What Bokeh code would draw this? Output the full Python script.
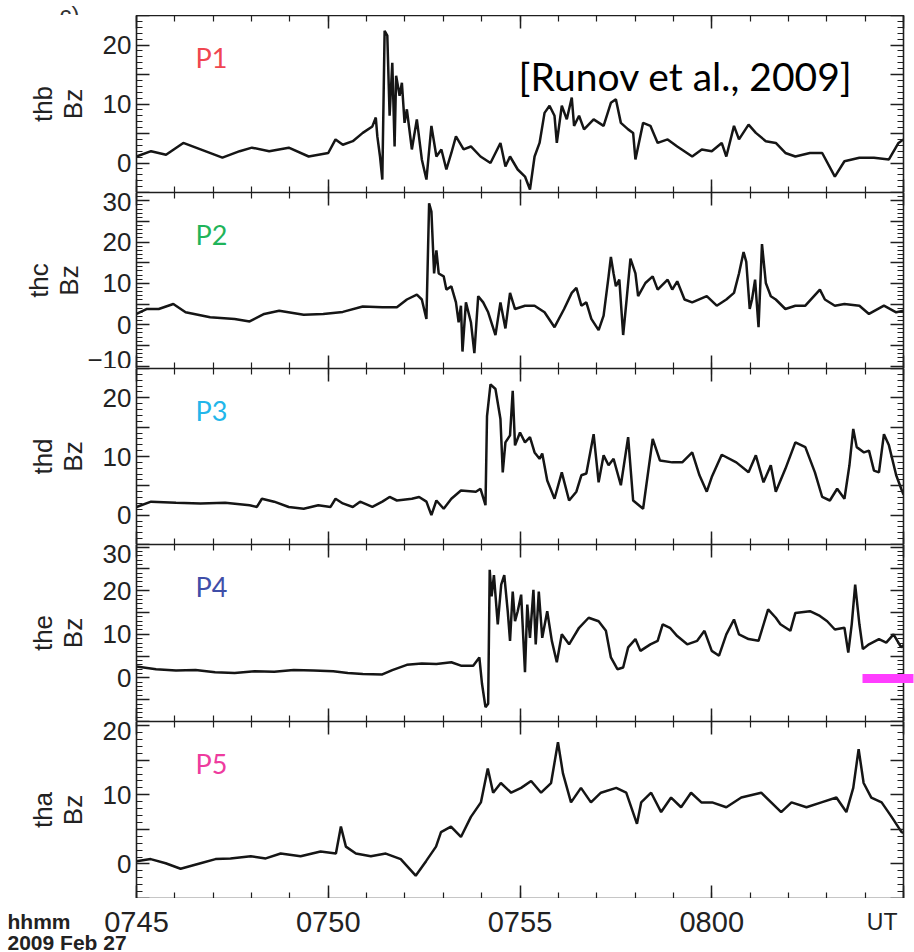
import math
from bokeh.plotting import figure
from bokeh.layouts import column, row
from bokeh.models import (Range1d, LinearAxis, FixedTicker, Label, CustomLabelingPolicy)
from bokeh.embed import file_html
from bokeh.resources import INLINE

# ---- data: minutes after 07:45 UT, Bz in nT ----
t_thb = [0.00,0.38,0.77,1.22,1.67,2.24,2.69,3.01,3.46,3.97,4.49,5.00,5.19,5.38,5.64,5.90,6.15,6.24,6.28,6.35,6.41,6.47,6.54,6.60,6.67,6.73,6.77,6.86,6.92,6.99,7.05,7.18,7.31,7.44,7.56,7.69,7.82,7.95,8.08,8.21,8.33,8.53,8.72,8.97,9.23,9.49,9.62,9.74,9.94,10.13,10.26,10.38,10.51,10.64,10.77,10.90,10.96,11.09,11.22,11.35,11.41,11.54,11.67,11.92,12.18,12.37,12.50,12.63,12.82,12.95,13.01,13.21,13.40,13.59,13.85,14.10,14.49,14.74,15.00,15.26,15.38,15.58,15.71,15.96,16.15,16.41,16.67,16.92,17.18,17.56,17.88,18.21,18.46,18.85,19.23,19.62,19.87,20.00]
bz_thb = [1.1,2.0,1.4,3.4,2.3,0.9,2.0,2.6,2.0,2.6,1.1,1.7,4.0,3.1,3.7,5.1,6.2,7.7,4.5,1.1,-2.8,22.4,21.6,8.0,17.0,2.8,14.8,11.4,13.6,6.8,9.1,2.3,7.4,0.6,-2.8,6.3,1.1,2.3,-1.1,1.7,4.5,2.3,2.8,1.1,0.0,3.4,-0.6,1.1,-1.1,-2.3,-4.5,1.1,3.4,8.5,9.7,8.0,3.4,9.7,7.4,11.1,6.3,8.0,5.7,7.4,6.3,10.2,10.8,6.8,5.7,5.1,0.6,6.8,6.3,3.4,4.0,2.8,1.1,2.3,2.0,3.4,1.1,6.3,4.0,6.5,5.1,3.7,3.4,1.7,1.1,1.7,1.7,-2.3,0.3,0.9,0.9,0.6,3.4,4.0]

t_thc = [0.00,0.26,0.58,0.96,1.28,1.92,2.56,2.95,3.33,3.72,4.36,4.87,5.38,5.90,6.41,6.79,7.05,7.31,7.44,7.56,7.63,7.69,7.76,7.82,7.88,8.01,8.08,8.21,8.33,8.40,8.46,8.50,8.59,8.72,8.81,8.91,9.04,9.17,9.36,9.49,9.62,9.74,9.87,10.13,10.38,10.64,10.90,11.15,11.35,11.47,11.60,11.73,11.86,12.05,12.18,12.31,12.37,12.44,12.50,12.59,12.69,12.78,12.88,13.01,13.08,13.27,13.46,13.59,13.85,13.97,14.10,14.29,14.49,14.87,15.13,15.38,15.58,15.71,15.83,15.90,15.99,16.05,16.13,16.22,16.31,16.41,16.54,16.67,16.92,17.18,17.44,17.82,17.95,18.21,18.46,18.85,19.10,19.49,19.81,20.00]
bz_thc = [2.6,3.8,3.8,5.0,3.0,1.8,1.4,0.8,2.6,3.4,2.4,2.6,3.1,4.4,4.2,4.2,6.1,7.3,6.1,1.4,29.4,27.4,12.4,18.0,12.4,11.7,8.5,9.3,5.4,0.6,4.6,-6.5,5.4,0.6,-6.9,6.9,5.4,3.0,-2.5,5.4,-0.9,7.7,3.8,4.6,4.6,3.0,-0.6,3.8,7.7,8.9,4.6,5.4,1.4,-1.3,2.2,11.7,16.4,12.4,9.3,10.9,-2.5,6.1,16.0,12.4,6.9,10.1,11.7,8.5,10.9,8.5,10.5,6.1,5.4,6.9,4.6,6.1,7.7,12.4,17.6,15.2,3.8,6.1,10.9,-0.6,19.5,10.1,6.9,6.1,3.8,4.6,4.6,8.5,6.1,4.6,5.0,4.6,2.6,4.6,3.0,3.4]

t_thd = [0.00,0.38,1.03,1.67,2.31,2.95,3.14,3.27,3.59,3.97,4.36,4.74,5.06,5.19,5.38,5.64,5.83,6.15,6.41,6.60,6.79,7.18,7.37,7.56,7.69,7.82,8.01,8.21,8.46,8.85,8.97,9.10,9.14,9.23,9.36,9.49,9.55,9.62,9.74,9.81,9.87,10.00,10.13,10.26,10.38,10.51,10.58,10.71,10.90,11.09,11.28,11.47,11.60,11.73,11.92,12.05,12.18,12.31,12.44,12.63,12.82,12.95,13.21,13.46,13.65,13.97,14.23,14.49,14.68,14.87,15.00,15.26,15.64,15.96,16.15,16.35,16.54,16.67,16.92,17.18,17.44,17.69,17.88,18.08,18.27,18.46,18.59,18.69,18.78,18.97,19.10,19.23,19.36,19.49,19.62,19.81,19.94,20.00]
bz_thd = [1.4,2.3,2.1,2.0,2.1,1.7,1.4,2.8,2.3,1.4,1.1,1.7,1.4,2.8,2.0,1.4,2.3,1.4,2.3,3.1,2.5,2.8,3.1,2.3,0.0,2.5,1.1,2.8,4.2,4.0,4.5,1.7,16.9,22.3,21.5,16.4,7.3,12.4,13.6,21.2,11.9,14.1,12.4,13.3,10.7,9.6,10.5,5.9,2.8,7.3,2.5,4.0,6.8,7.1,13.8,5.6,10.2,8.5,9.6,5.1,13.3,2.5,1.1,13.0,9.3,9.0,9.0,10.7,6.8,4.0,6.5,10.3,9.0,7.3,10.2,5.6,8.5,4.0,7.9,12.4,11.6,7.3,3.1,2.5,4.5,2.8,8.5,14.7,11.6,10.7,11.0,7.6,7.3,13.8,11.9,6.8,4.5,3.5]

t_the = [0.00,0.51,1.03,1.54,2.05,2.56,3.08,3.59,4.10,4.62,5.13,5.51,5.90,6.41,6.67,7.05,7.44,7.82,8.21,8.46,8.78,8.94,9.01,9.10,9.17,9.21,9.26,9.32,9.42,9.51,9.59,9.68,9.74,9.81,9.87,9.94,10.03,10.13,10.19,10.26,10.35,10.41,10.49,10.58,10.71,10.83,10.96,11.09,11.28,11.54,11.79,12.05,12.24,12.37,12.54,12.69,12.82,13.01,13.14,13.40,13.59,13.72,13.91,14.10,14.36,14.62,14.81,15.00,15.19,15.38,15.58,15.71,15.96,16.22,16.47,16.67,16.79,17.05,17.18,17.56,17.82,18.01,18.21,18.46,18.56,18.65,18.74,18.85,18.94,19.10,19.36,19.55,19.74,19.94,20.00]
bz_the = [2.6,2.0,1.7,1.8,1.3,1.1,1.5,1.4,1.8,1.7,1.5,1.1,0.9,0.8,1.8,3.0,3.3,3.2,3.6,2.8,2.8,4.7,-1.4,-6.7,-5.9,24.8,18.7,23.6,12.3,21.4,23.6,15.3,8.5,19.8,13.0,15.3,19.1,1.3,16.8,9.2,20.2,7.7,19.8,9.2,15.3,8.5,3.6,10.0,7.7,11.5,13.8,13.0,10.8,4.7,2.0,2.4,7.0,8.9,6.2,7.7,8.5,12.3,11.5,9.6,7.7,8.5,10.8,6.2,5.1,10.0,13.4,10.0,8.9,8.5,15.7,13.8,12.3,10.8,14.9,15.3,14.2,13.0,11.1,11.5,5.8,12.3,21.4,12.3,6.6,7.7,8.9,8.1,10.0,7.0,7.5]

t_tha = [0.00,0.37,0.76,1.15,1.67,2.06,2.45,2.98,3.37,3.76,4.28,4.80,5.20,5.33,5.46,5.72,6.11,6.50,6.89,7.28,7.55,7.81,7.94,8.20,8.46,8.72,8.98,9.16,9.30,9.50,9.77,10.03,10.29,10.55,10.81,10.99,11.12,11.33,11.59,11.85,12.11,12.51,12.77,13.05,13.16,13.42,13.68,13.94,14.20,14.46,14.73,15.01,15.38,15.77,16.29,16.81,17.08,17.47,17.86,18.25,18.51,18.69,18.83,18.96,19.16,19.43,19.69,19.95,20.00]
bz_tha = [0.4,0.7,0.1,-0.7,0.1,0.7,0.8,1.1,0.8,1.5,1.1,1.8,1.5,5.4,2.5,1.5,1.1,1.5,0.7,-1.7,0.4,2.5,4.6,5.4,3.9,6.8,8.9,13.8,10.3,11.7,10.3,11.0,12.0,10.3,11.7,17.6,13.1,8.9,11.0,8.9,10.3,11.0,10.3,5.8,8.9,10.3,7.5,9.6,8.2,10.3,8.9,8.9,8.2,9.6,10.3,7.5,8.9,8.2,8.9,9.6,7.5,11.0,16.6,11.7,9.6,8.9,6.8,4.6,4.5]

tick_minutes = [0, 5, 10, 15]
tick_labels = ["0745", "0750", "0755", "0800"]
end_label = "UT"
probes = ["thb", "thc", "thd", "the", "tha"]
tags = ["P1", "P2", "P3", "P4", "P5"]
tag_colors = ["#f04650", "#1fb45a", "#22b6ea", "#3f4ea8", "#ee3b9e"]

FONT = "Liberation Sans"
TAGFONT = "Lato"
INK = "#1e1e1e"

W = 914
LEFT = 136
RIGHT = 11
XMIN, XMAX = 0.0, 20.0
PXPERMIN = (W - LEFT - RIGHT) / (XMAX - XMIN)

panels = [
    dict(t=t_thb, v=bz_thb, yr=(-5, 25), h=177, lab=[0, 10, 20], lstand=12),
    dict(t=t_thc, v=bz_thc, yr=(-10.6, 32), h=176, lab=[-10, 0, 10, 20, 30], lstand=0),
    dict(t=t_thd, v=bz_thd, yr=(-5, 25), h=176, lab=[0, 10, 20], lstand=12),
    dict(t=t_the, v=bz_the, yr=(-10, 30.6), h=177, lab=[0, 10, 20, 30], lstand=12),
    dict(t=t_tha, v=bz_tha, yr=(-5, 20.6), h=177, lab=[0, 10, 20], lstand=12),
]

yticks_all = list(range(-10, 35, 5))
yminor_all = list(range(-11, 34))
hide_all = "for (const i of indices) indices.unset(i)"


def style_axis(ax, labels_on):
    ax.axis_line_width = 1.6
    ax.axis_line_color = INK
    ax.major_tick_in = 13
    ax.major_tick_out = 0
    ax.minor_tick_in = 6
    ax.minor_tick_out = 0
    ax.major_tick_line_width = 1.5
    ax.minor_tick_line_width = 1.2
    ax.major_tick_line_color = INK
    ax.minor_tick_line_color = INK
    if not labels_on:
        ax.major_label_text_font_size = "0px"
        ax.major_label_standoff = 0
        ax.axis_label_standoff = 0
        ax.major_label_policy = CustomLabelingPolicy(code=hide_all)


def strip(height, xr, yr):
    s = figure(width=W, height=height, output_backend="svg", toolbar_location=None,
               x_range=xr, y_range=yr, min_border=0)
    s.axis.visible = False
    s.grid.visible = False
    s.outline_line_color = None
    return s


# ---- top strip: the panel letter, mostly cropped by the page top ----
top = strip(15, Range1d(0, W), Range1d(0, 15))
top.add_layout(Label(x=59, y=1, x_units="screen", y_units="screen", text="c)",
                     text_align="left", text_baseline="alphabetic", text_font=FONT,
                     text_font_size="24px", text_color="#333333"))

figs = [row(top)]
for i, pn in enumerate(panels):
    p = figure(width=W, height=pn["h"], output_backend="svg", toolbar_location=None,
               x_range=Range1d(XMIN, XMAX), y_range=Range1d(*pn["yr"]),
               min_border=0, min_border_left=LEFT, min_border_right=RIGHT,
               min_border_top=0, min_border_bottom=0)
    p.outline_line_color = None
    p.grid.visible = False
    p.background_fill_color = "white"
    p.border_fill_color = "white"

    p.yaxis.ticker = FixedTicker(ticks=yticks_all, minor_ticks=yminor_all)
    p.yaxis.major_label_overrides = {k: ("\u2212" + str(-k) if k < 0 else str(k)) if k in pn["lab"] else "" for k in yticks_all}
    p.yaxis.major_label_text_font = FONT
    p.yaxis.major_label_text_font_size = "26px"
    p.yaxis.major_label_text_color = "#222222"
    p.yaxis.major_label_standoff = 5
    p.yaxis.axis_label = probes[i] + "\nBz"
    p.yaxis.axis_label_text_font = FONT
    p.yaxis.axis_label_text_font_size = "26px"
    p.yaxis.axis_label_text_font_style = "normal"
    p.yaxis.axis_label_text_color = "#222222"
    p.yaxis.axis_label_text_line_height = 1.0
    p.yaxis.axis_label_standoff = pn["lstand"]
    style_axis(p.yaxis[0], True)

    p.xaxis.ticker = FixedTicker(ticks=[0, 5, 10, 15, 20], minor_ticks=list(range(0, 21)))
    style_axis(p.xaxis[0], False)

    ra = LinearAxis(ticker=FixedTicker(ticks=yticks_all, minor_ticks=yminor_all))
    style_axis(ra, False)
    p.add_layout(ra, "right")
    ta = LinearAxis(ticker=FixedTicker(ticks=[0, 5, 10, 15, 20], minor_ticks=list(range(0, 21))))
    style_axis(ta, False)
    p.add_layout(ta, "above")

    p.line(pn["t"], pn["v"], line_color="#151515", line_width=2.5)

    p.add_layout(Label(x=59, y=pn["h"] - 42, x_units="screen", y_units="screen", text=tags[i],
                       text_align="left", text_baseline="middle",
                       text_font=TAGFONT, text_font_size="27px", text_color=tag_colors[i]))
    figs.append(p)

figs[1].add_layout(Label(x=382, y=117, x_units="screen", y_units="screen", text="[Runov et al., 2009]",
                         text_align="left", text_baseline="middle", text_font=TAGFONT,
                         text_font_size="39px", text_color="#000000"))

# magenta marker at the right edge of the P4 panel (drawn as a single wide tick)
marker_level = -0.25
mag = LinearAxis(ticker=FixedTicker(ticks=[marker_level], minor_ticks=[]))
mag.axis_line_color = None
mag.minor_tick_line_color = None
mag.major_tick_in = 41
mag.major_tick_out = 10
mag.major_tick_line_width = 9
mag.major_tick_line_color = "#ff3dff"
mag.major_tick_line_cap = "butt"
mag.major_label_text_font_size = "0px"
mag.major_label_standoff = 0
mag.major_label_policy = CustomLabelingPolicy(code=hide_all)
figs[4].add_layout(mag, "right")

# ---- bottom strip: time labels on the same minute scale, date block at left ----
bot = strip(54, Range1d(XMIN - LEFT / PXPERMIN, XMAX + RIGHT / PXPERMIN), Range1d(0, 54))
bot.text(x=tick_minutes, y=[31] * len(tick_minutes), text=tick_labels,
         text_align="center", text_baseline="middle", text_font={"value": FONT},
         text_font_size="29px", text_color="#222222")
bot.text(x=[XMAX], y=[31], text=[end_label], x_offset=-6,
         text_align="right", text_baseline="middle", text_font={"value": FONT},
         text_font_size="23px", text_color="#222222")
bot.add_layout(Label(x=7, y=31, x_units="screen", y_units="screen", text="hhmm",
                     text_align="left", text_baseline="middle", text_font=FONT,
                     text_font_size="21px", text_font_style="bold", text_color="#222222"))
bot.add_layout(Label(x=7, y=10, x_units="screen", y_units="screen", text="2009 Feb 27",
                     text_align="left", text_baseline="middle", text_font=FONT,
                     text_font_size="21px", text_font_style="bold", text_color="#222222"))
figs.append(row(bot))

layout = column(*figs, spacing=0)
open("out.html", "w").write(file_html(layout, INLINE))
